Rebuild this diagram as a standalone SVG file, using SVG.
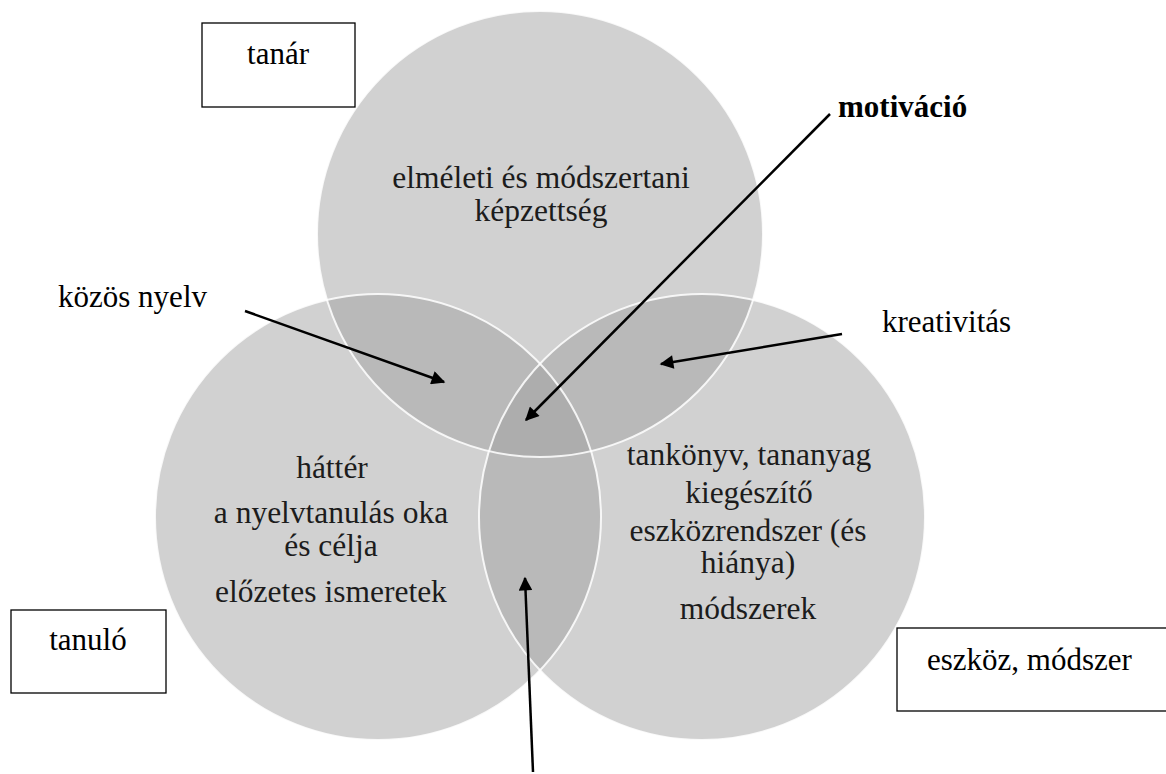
<svg xmlns="http://www.w3.org/2000/svg" width="1166" height="774" viewBox="0 0 1166 774">
  <style>
    .t { font-family: "Liberation Serif", "Times New Roman", serif; font-size: 31px; fill: #000; }
    .in { font-family: "Liberation Serif", "Times New Roman", serif; font-size: 31.5px; fill: #1c1c1c; text-anchor: middle; }
    .box { fill: #fff; stroke: #000; stroke-width: 1.3; }
    .base { fill: #d1d1d1; }
    .dbl { fill: #b9b9b9; }
    .tri { fill: #adadad; }
    .edge { fill: none; stroke: #fff; stroke-width: 2; stroke-opacity: 0.85; }
    .conn { stroke: #000; stroke-width: 2.5; fill: none; marker-end: url(#ah); }
  </style>
  <defs>
    <marker id="ah" viewBox="0 0 10 10" refX="9" refY="5" markerWidth="7.5" markerHeight="5.5" markerUnits="strokeWidth" orient="auto">
      <path d="M0,0 L10,5 L0,10 Z" fill="#000"/>
    </marker>
    <clipPath id="cT"><circle cx="540" cy="234" r="223"/></clipPath>
    <clipPath id="cL"><circle cx="378" cy="517" r="223"/></clipPath>
  </defs>
  <rect width="1166" height="774" fill="#fff"/>

  <g id="venn">
    <circle id="circle-tanar" class="base" cx="540" cy="234" r="223"/>
    <circle id="circle-tanulo" class="base" cx="378" cy="517" r="223"/>
    <circle id="circle-eszkoz" class="base" cx="702" cy="517" r="223"/>
    <g clip-path="url(#cT)">
      <circle class="dbl" cx="378" cy="517" r="223"/>
      <circle class="dbl" cx="702" cy="517" r="223"/>
    </g>
    <g clip-path="url(#cL)">
      <circle class="dbl" cx="702" cy="517" r="223"/>
    </g>
    <g clip-path="url(#cT)">
      <g clip-path="url(#cL)">
        <circle class="tri" cx="702" cy="517" r="223"/>
      </g>
    </g>
    <circle class="edge" cx="540" cy="234" r="223" stroke-opacity="0.35"/>
    <circle class="edge" cx="378" cy="517" r="223"/>
    <circle class="edge" cx="702" cy="517" r="223"/>
  </g>

  <g id="text-tanar-circle">
    <text class="in" x="541" y="188">elméleti és módszertani</text>
    <text class="in" x="541" y="221">képzettség</text>
  </g>
  <g id="text-tanulo-circle">
    <text class="in" x="332" y="478">háttér</text>
    <text class="in" x="331" y="523">a nyelvtanulás oka</text>
    <text class="in" x="331" y="556">és célja</text>
    <text class="in" x="331" y="602">előzetes ismeretek</text>
  </g>
  <g id="text-eszkoz-circle">
    <text class="in" x="749" y="465">tankönyv, tananyag</text>
    <text class="in" x="749" y="503">kiegészítő</text>
    <text class="in" x="748" y="541">eszközrendszer (és</text>
    <text class="in" x="748" y="573">hiánya)</text>
    <text class="in" x="748" y="619">módszerek</text>
  </g>

  <g id="node-tanar">
    <rect class="box" x="202" y="23" width="153" height="84"/>
    <text class="t" x="278" y="64" text-anchor="middle">tanár</text>
  </g>
  <g id="node-tanulo">
    <rect class="box" x="11" y="610" width="155" height="83"/>
    <text class="t" x="88" y="650" text-anchor="middle">tanuló</text>
  </g>
  <g id="node-eszkoz">
    <rect class="box" x="897" y="628" width="275" height="83"/>
    <text class="t" x="927" y="670">eszköz, módszer</text>
  </g>

  <g id="label-motivacio">
    <text class="t" x="838" y="117" font-weight="bold" font-size="33">motiváció</text>
  </g>
  <g id="label-kozos-nyelv">
    <text class="t" x="207" y="307" text-anchor="end">közös nyelv</text>
  </g>
  <g id="label-kreativitas">
    <text class="t" x="882" y="332">kreativitás</text>
  </g>

  <g id="connectors">
    <line class="conn" x1="830" y1="114" x2="526" y2="420"/>
    <line class="conn" x1="245" y1="311" x2="444" y2="382"/>
    <line class="conn" x1="842" y1="334" x2="661" y2="364"/>
    <line class="conn" x1="533" y1="772" x2="525" y2="578"/>
  </g>
</svg>
